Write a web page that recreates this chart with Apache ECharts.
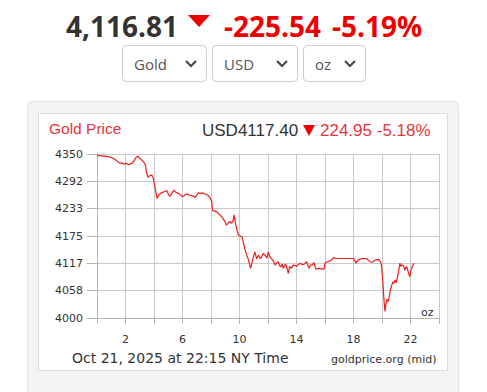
<!DOCTYPE html>
<html><head><meta charset="utf-8">
<script src="https://cdn.jsdelivr.net/npm/echarts@6/dist/echarts.min.js"></script>
<style>html,body{margin:0;padding:0;background:#fff;}#c{width:487px;height:392px;}</style>
</head><body><div id="c"></div>
<script>
// ---- data ----
const hours = [0.00,0.30,0.60,0.85,1.05,1.20,1.35,1.50,1.62,1.75,1.90,2.05,2.20,2.35,2.50,2.62,2.75,2.88,3.00,3.15,3.30,3.40,3.48,3.58,3.70,3.85,3.95,4.05,4.12,4.22,4.32,4.45,4.60,4.75,4.90,5.02,5.12,5.25,5.40,5.55,5.70,5.85,6.00,6.15,6.30,6.45,6.60,6.75,6.88,7.00,7.12,7.25,7.45,7.60,7.78,7.93,8.05,8.12,8.28,8.40,8.52,8.63,8.75,8.86,8.98,9.10,9.20,9.32,9.45,9.55,9.62,9.70,9.80,9.92,10.05,10.18,10.28,10.40,10.52,10.62,10.78,10.88,10.98,11.08,11.20,11.32,11.44,11.56,11.67,11.80,11.92,12.02,12.14,12.26,12.37,12.49,12.60,12.72,12.82,12.90,13.00,13.07,13.18,13.26,13.35,13.43,13.52,13.62,13.78,13.90,14.01,14.12,14.25,14.40,14.55,14.72,14.80,14.88,15.00,15.12,15.23,15.30,15.37,15.55,15.75,15.93,16.00,16.15,16.35,16.50,16.60,16.82,17.20,17.60,18.00,18.10,18.18,18.30,18.46,18.70,18.93,19.05,19.16,19.30,19.45,19.63,19.81,19.92,19.98,20.05,20.14,20.21,20.28,20.36,20.45,20.56,20.66,20.75,20.83,20.91,21.00,21.07,21.14,21.26,21.32,21.40,21.50,21.61,21.70,21.78,21.85,21.96,22.02,22.08,22.16,22.25];
const prices = [4347,4346,4345,4344,4342,4340,4336,4333,4330,4331,4328,4330,4327,4329,4331,4337,4343,4345,4341,4337,4332,4326,4310,4300,4304,4305,4298,4283,4270,4255,4262,4266,4268,4270,4272,4263,4260,4266,4273,4268,4266,4263,4259,4262,4265,4262,4262,4260,4257,4262,4267,4266,4267,4264,4262,4257,4248,4229,4228,4227,4223,4220,4216,4212,4205,4198,4203,4206,4202,4208,4220,4205,4191,4177,4175,4173,4160,4145,4133,4125,4106,4118,4131,4141,4126,4134,4127,4130,4138,4134,4128,4141,4130,4126,4122,4113,4118,4120,4112,4109,4115,4106,4113,4114,4104,4095,4110,4106,4113,4112,4110,4114,4117,4114,4115,4120,4112,4106,4113,4114,4118,4110,4104,4106,4105,4104,4117,4120,4122,4125,4129,4127,4127,4127,4127,4122,4117,4123,4126,4127,4127,4123,4120,4119,4122,4125,4124,4118,4109,4081,4038,4014,4030,4040,4035,4056,4067,4077,4074,4081,4075,4085,4095,4117,4110,4113,4112,4102,4110,4106,4097,4088,4100,4106,4112,4117];
const xTickLabels = [2, 6, 10, 14, 18, 22];
const yMin = 4000, yMax = 4350, ySteps = 6;
const headPrice = '4,116.81', headChange = '-225.54', headPct = '-5.19%';
const selectors = ['Gold', 'USD', 'oz'];
const chartTitle = 'Gold Price';
const chartQuote = 'USD4117.40', chartChange = '224.95 -5.18%';
const unitLabel = 'oz';
const footerDate = 'Oct 21, 2025 at 22:15 NY Time';
const footerSource = 'goldprice.org (mid)';

// ---- chart ----
const RED = '#ee0000';
const el = document.getElementById('c');
const chart = echarts.init(el, null, {renderer: 'svg'});
const boxes = [[122, 84], [212, 85], [303, 62]];
const graphics = [
  {type:'rect', z:-10, shape:{x:27.5,y:101.5,width:431,height:300,r:5}, style:{fill:'#f4f4f4',stroke:'#e3e3e3',lineWidth:1}},
  {type:'rect', z:-9, shape:{x:38.5,y:113.5,width:409,height:257}, style:{fill:'#ffffff',stroke:'#dadada',lineWidth:1}},
  {type:'text', x:66, y:26, style:{text:headPrice, fill:'#333', font:'bold 28px "Open Sans"', verticalAlign:'middle'}},
  {type:'polygon', shape:{points:[[188,15],[210,15],[199,27]]}, style:{fill:RED}},
  {type:'text', x:224, y:26, style:{text:headChange, fill:RED, font:'bold 28px "Open Sans"', verticalAlign:'middle'}},
  {type:'text', x:332, y:26, style:{text:headPct, fill:RED, font:'bold 28px "Open Sans"', verticalAlign:'middle'}},
  {type:'text', x:49, y:128, style:{text:chartTitle, fill:'#e8343c', font:'15.5px "Liberation Sans"', verticalAlign:'middle'}},
  {type:'text', x:202, y:130, style:{text:chartQuote, fill:'#333', font:'17px "Liberation Sans"', verticalAlign:'middle'}},
  {type:'polygon', shape:{points:[[303,125],[315,125],[309,136]]}, style:{fill:RED}},
  {type:'text', x:320, y:130, style:{text:chartChange, fill:'#e8343c', font:'17px "Liberation Sans"', verticalAlign:'middle'}},
  {type:'text', x:421, y:312, style:{text:unitLabel, fill:'#333', font:'11px "DejaVu Sans"', verticalAlign:'middle'}},
  {type:'text', x:72, y:358, style:{text:footerDate, fill:'#333', font:'14px "DejaVu Sans"', verticalAlign:'middle'}},
  {type:'text', x:331, y:359, style:{text:footerSource, fill:'#333', font:'11px "DejaVu Sans"', verticalAlign:'middle'}}
];
selectors.forEach((s, i) => {
  const [bx, bw] = boxes[i];
  graphics.push({type:'rect', shape:{x:bx+0.5,y:45.5,width:bw,height:36,r:4}, style:{fill:'#fff',stroke:'#cccccc',lineWidth:1}});
  graphics.push({type:'text', x:bx+12, y:63.5, style:{text:s, fill:'#555', font:'15px "Open Sans"', verticalAlign:'middle'}});
  const cx = bx + bw - 15;
  graphics.push({type:'polyline', shape:{points:[[cx-5,61],[cx,66],[cx+5,61]]}, style:{stroke:'#444',lineWidth:2,fill:null}});
});

chart.setOption({
  animation: false,
  backgroundColor: 'transparent',
  grid: {left:97, right:48, top:154, bottom:74, containLabel:false, outerBoundsMode:'none'},
  xAxis: {
    type:'value', min:0, max:24, interval:2,
    axisLine:{show:true, lineStyle:{color:'#b5b5b5'}},
    axisTick:{show:true, length:6, lineStyle:{color:'#b5b5b5'}},
    splitLine:{show:true, lineStyle:{color:'#cacaca'}},
    axisLabel:{formatter: v => xTickLabels.includes(Math.round(v)) ? String(Math.round(v)) : '', color:'#333', fontFamily:'DejaVu Sans', fontSize:11, margin:16, showMinLabel:true, showMaxLabel:true}
  },
  yAxis: {
    type:'value', min:yMin, max:yMax, interval:(yMax - yMin) / ySteps,
    axisLine:{show:true, lineStyle:{color:'#b5b5b5'}},
    axisTick:{show:true, length:10, lineStyle:{color:'#b5b5b5'}},
    splitLine:{show:true, lineStyle:{color:'#cacaca'}},
    axisLabel:{formatter: v => String(Math.round(v)), color:'#333', fontFamily:'DejaVu Sans', fontSize:11, margin:14}
  },
  series: [{
    type:'line', data: hours.map((h, i) => [h, prices[i]]),
    showSymbol:false, symbol:'none', lineStyle:{color:'#f01c1c', width:1.2}
  }],
  graphic: graphics
});
</script></body></html>
